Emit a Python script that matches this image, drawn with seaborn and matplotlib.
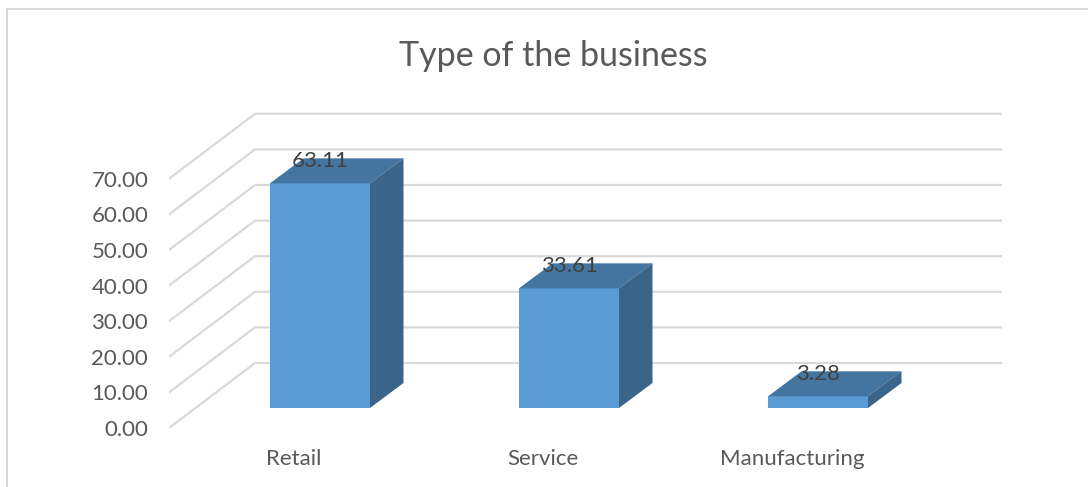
import matplotlib
matplotlib.use("Agg")
import matplotlib.pyplot as plt
from matplotlib.lines import Line2D
from matplotlib.patches import Polygon
import pandas as pd
import seaborn as sns

categories = ["Retail", "Service", "Manufacturing"]
values = [63.11, 33.61, 3.28]
axis_ticks = [0, 10, 20, 30, 40, 50, 60, 70]

FRONT = "#5B9BD5"
TOP = "#4475A1"
SIDE = "#3A6488"
GRID = "#D9D9D9"

W, H = 1088, 487
sns.set_theme(style="white", rc={"font.family": ["Lato", "DejaVu Sans"]})
fig = plt.figure(figsize=(W / 100, H / 100), dpi=100)

# Plot area in pixels: x 169-1002, y 108-428
left, right, top, bottom = 169, 1002, 108, 428
ax = fig.add_axes([left / W, 1 - bottom / H, (right - left) / W, (bottom - top) / H])

px_per_cat = 249.0
px_per_unit = 3.56
bar_cx = 320.0
floor_gap = 20.0   # pixels between the front floor edge and the bar base

frame = pd.DataFrame({"category": categories, "share": values})
sns.barplot(data=frame, x="category", y="share", color=FRONT, saturation=1,
            width=100 / px_per_cat, ax=ax, zorder=3, linewidth=0)
ax.set_xlim((left - bar_cx) / px_per_cat, (right - bar_cx) / px_per_cat)
ax.set_ylim(-floor_gap / px_per_unit, (408 - top) / px_per_unit)

# Oblique projection offsets for the depth of bars and walls
bar_dx, bar_dy = 33.5 / px_per_cat, 25 / px_per_unit
wall_dx, wall_dy = 86 / px_per_cat, 65 / px_per_unit
half = 50 / px_per_cat
floor = -floor_gap / px_per_unit

for tick in axis_ticks:
    ax.plot([(left - bar_cx) / px_per_cat, (left - bar_cx) / px_per_cat + wall_dx,
             (right - bar_cx) / px_per_cat],
            [floor + tick, floor + tick + wall_dy, floor + tick + wall_dy],
            color=GRID, lw=1.6, zorder=1, solid_joinstyle="miter")

for i, v in enumerate(values):
    x0, x1 = i - half, i + half
    ax.add_patch(Polygon([(x0, v), (x1, v), (x1 + bar_dx, v + bar_dy), (x0 + bar_dx, v + bar_dy)],
                         closed=True, fc=TOP, ec="none", zorder=3))
    ax.add_patch(Polygon([(x1, 0), (x1 + bar_dx, bar_dy), (x1 + bar_dx, v + bar_dy), (x1, v)],
                         closed=True, fc=SIDE, ec="none", zorder=3))
    ax.annotate(f"{v:.2f}", (i, v + bar_dy), xytext=(0, -2), textcoords="offset points",
                ha="center", va="center", fontsize=16, color="#404040", zorder=5)

sns.despine(ax=ax, left=True, bottom=True)
ax.set_xlabel("")
ax.set_ylabel("")
ax.set_xticks([i - 26 / px_per_cat for i in range(len(categories))], categories)
ax.set_yticks([floor + t for t in axis_ticks], [f"{t:.2f}" for t in axis_ticks])
ax.tick_params(axis="x", length=0, pad=15, labelsize=16, labelcolor="#595959")
ax.tick_params(axis="y", length=0, pad=15, labelsize=16, labelcolor="#595959")
ax.grid(False)
ax.patch.set_alpha(0)

fig.text(553 / W, 1 - 56 / H, "Type of the business", ha="center", va="center",
         fontsize=24.5, color="#595959")

# Chart frame: only its top and left edges fall inside the canvas
fig.add_artist(Line2D([7 / W, 7 / W, 1], [0, 1 - 9 / H, 1 - 9 / H], transform=fig.transFigure,
                      color=GRID, lw=1.4, solid_joinstyle="miter"))

fig.savefig("out.png", dpi=100)
